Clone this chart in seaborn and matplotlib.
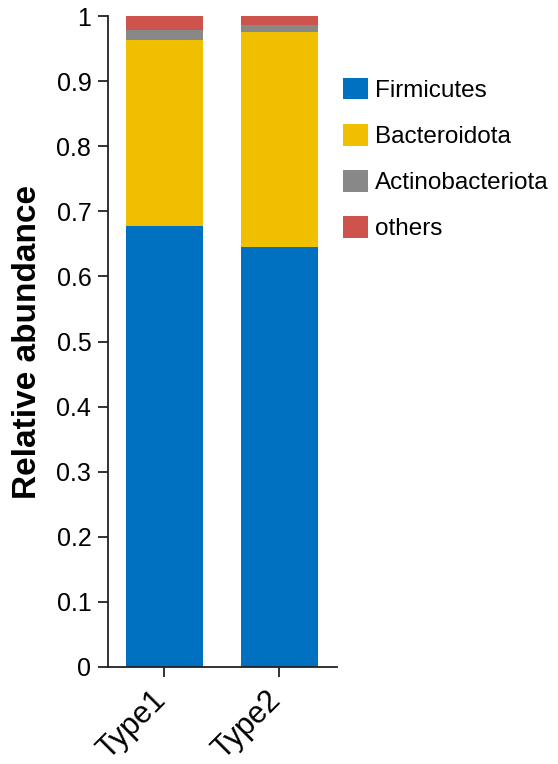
import numpy as np
import pandas as pd
import matplotlib
matplotlib.use("Agg")
import matplotlib.pyplot as plt
import matplotlib.transforms as mtransforms
import seaborn as sns
from matplotlib.patches import Patch

samples = ["Type1", "Type2"]
phyla = ["Firmicutes", "Bacteroidota", "Actinobacteriota", "others"]
firmicutes = [0.677, 0.645]
bacteroidota = [0.286, 0.330]
actinobacteriota = [0.015, 0.011]
others = [0.022, 0.014]
colors = ["#0070C0", "#F0C000", "#888888", "#CD534C"]

sns.set_style("ticks")
plt.rcParams['font.family'] = ['Liberation Sans', 'DejaVu Sans']
plt.rcParams['text.color'] = "black"
plt.rcParams['axes.labelcolor'] = "black"

df = pd.DataFrame({"sample": samples, "Firmicutes": firmicutes,
                   "Bacteroidota": bacteroidota,
                   "Actinobacteriota": actinobacteriota, "others": others})
cum = df[phyla].cumsum(axis=1)

fig = plt.figure(figsize=(5.58, 7.64), dpi=100)
ax = fig.add_axes([0.1935, 0.127, 0.4105, 0.852])

# draw cumulative bars from top segment down so each covers the one above
for name, col in zip(phyla[::-1], colors[::-1]):
    sns.barplot(x=df["sample"], y=cum[name], color=col, width=0.67,
                saturation=1, ax=ax, edgecolor="none")

ax.set_xlim(-0.49, 1.5)
ax.set_ylim(0, 1)
ax.set_yticks(np.arange(0, 1.01, 0.1))
ax.set_yticklabels(["0"] + [f"{v:.1f}" for v in np.arange(0.1, 0.95, 0.1)] + ["1"])
ax.set_xlabel("")
ax.set_ylabel("Relative abundance", fontsize=24, fontweight="bold", labelpad=10)
ax.tick_params(axis="both", width=1.3, length=7, direction="out",
               color="#222222", labelcolor="black", pad=5)
ax.tick_params(axis="y", labelsize=18)
ax.tick_params(axis="x", labelsize=22, pad=4)
# nudge rotated x labels a bit left/down
offset = mtransforms.ScaledTranslation(-14 / 100, -3 / 100, fig.dpi_scale_trans)
for lab in ax.get_xticklabels():
    lab.set_rotation(45)
    lab.set_ha("right")
    lab.set_rotation_mode("anchor")
    lab.set_transform(lab.get_transform() + offset)
for s in ["left", "bottom"]:
    ax.spines[s].set_linewidth(1.3)
    ax.spines[s].set_color("#222222")
sns.despine(ax=ax)

handles = [Patch(facecolor=c, edgecolor="none", label=p) for p, c in zip(phyla, colors)]
fig.legend(handles=handles, loc="upper left", bbox_to_anchor=(0.598, 0.911),
           frameon=False, fontsize=17.5, handlelength=1.0, handleheight=1.0,
           handletextpad=0.3, labelspacing=0.9, borderaxespad=0)

fig.savefig("out.png", dpi=100)
